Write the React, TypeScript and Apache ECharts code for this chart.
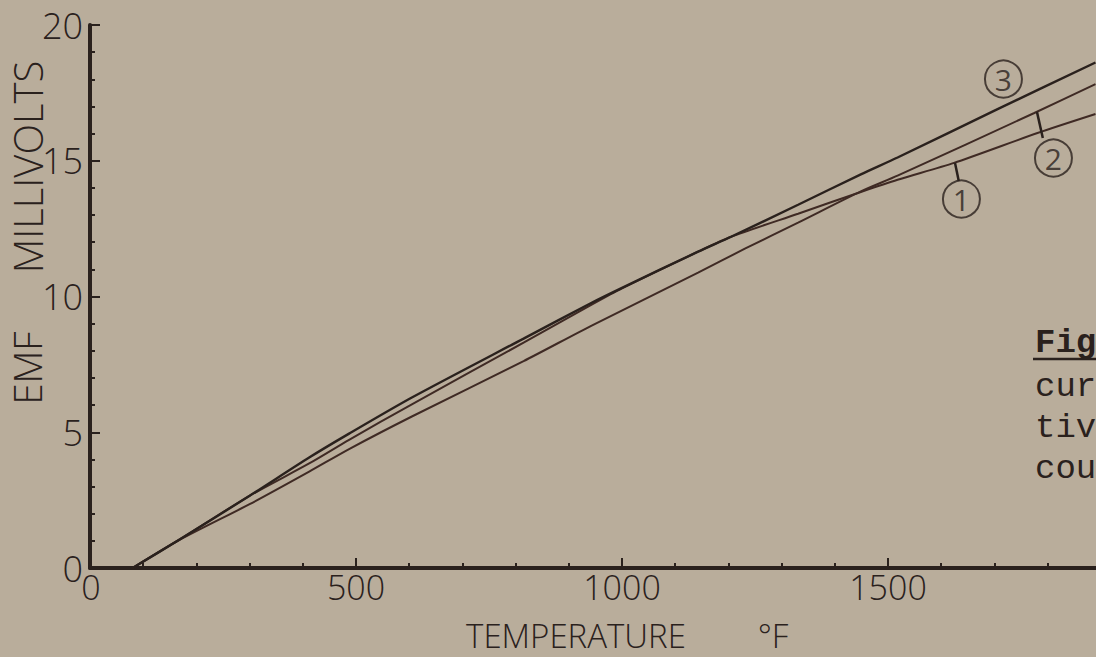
import React, { useEffect, useRef } from "react";
import * as echarts from "echarts";

// ---- data (°F, mV) ----
const temp3 = [80, 170, 300, 412, 487, 605, 815, 943, 1000, 1143, 1205, 1331, 1449, 1518, 1706, 1890];
const emf3 = [0, 1.07, 2.66, 4.07, 4.95, 6.28, 8.45, 9.77, 10.32, 11.65, 12.2, 13.38, 14.5, 15.12, 16.9, 18.62];

const temp1 = [80, 170, 300, 412, 487, 605, 815, 943, 1000, 1143, 1205, 1331, 1449, 1518, 1624, 1781, 1890];
const emf1 = [0, 1.07, 2.66, 3.85, 4.72, 6.03, 8.3, 9.7, 10.3, 11.65, 12.2, 13.05, 13.85, 14.3, 14.92, 16.02, 16.72];

const temp2 = [80, 170, 300, 412, 487, 605, 815, 943, 1143, 1231, 1331, 1449, 1518, 1774, 1890];
const emf2 = [0, 1.05, 2.35, 3.55, 4.38, 5.58, 7.62, 8.93, 10.88, 11.76, 12.72, 13.87, 14.45, 16.75, 17.82];

// curve number labels (circled) and their leader lines
const labelNames = ["1", "2", "3"];
const labelTemps = [1638, 1811, 1717];
const labelEmfs = [13.59, 15.1, 18.01];
const leader1 = [[1626, 14.92], [1633, 14.25]];
const leader2 = [[1780, 16.8], [1791, 15.84]];

const xTitle = "TEMPERATURE";
const xUnit = "°F";
const yTitleA = "MILLIVOLTS";
const yTitleB = "EMF";
const captionLines = ["cur", "tiv", "cou"];
const captionHead = "Fig";

const BG = "#b9ad9b";
const INK = "#2a211d";
const INK2 = "#3f2a24";
const SANS = "'Open Sans', 'DejaVu Sans', sans-serif";
const MONO = "'Liberation Mono', 'DejaVu Sans Mono', monospace";

const zip = (xs: number[], ys: number[]) => xs.map((x, i) => [x, ys[i]]);

export default function App() {
  const ref = useRef<HTMLDivElement>(null);
  useEffect(() => {
    document.body.style.margin = "0";
    document.body.style.background = BG;
    const chart = echarts.init(ref.current!, null, { renderer: "svg" });
    const lineSeries = (name: string, data: number[][], color: string, width: number) => ({
      type: "line",
      name,
      data,
      showSymbol: false,
      smooth: 0.25,
      lineStyle: { color, width },
      z: 3,
    });
    chart.setOption({
      animation: false,
      backgroundColor: BG,
      grid: { left: 90, top: 25, width: 1064, height: 543, containLabel: false, outerBoundsMode: "none" },
      xAxis: {
        type: "value",
        min: 0,
        max: 2000,
        interval: 500,
        axisLine: { show: true, onZero: false, lineStyle: { color: INK, width: 4 } },
        axisTick: { show: true, inside: true, length: 10, lineStyle: { color: INK, width: 2 } },
        minorTick: { show: true, splitNumber: 5, length: 5, lineStyle: { color: INK, width: 2 } },
        axisLabel: {
          color: INK,
          fontFamily: SANS,
          fontWeight: 300,
          fontSize: 34,
          margin: 2,
          showMaxLabel: false,
          formatter: (v: number) => (v === 0 ? "{z|0}" : String(v)),
          rich: { z: { fontFamily: SANS, fontWeight: 300, fontSize: 34, color: INK, padding: [0, 0, 0, 2] } },
        },
        splitLine: { show: false },
        minorSplitLine: { show: false },
      },
      yAxis: {
        type: "value",
        min: 0,
        max: 20,
        interval: 5,
        axisLine: { show: true, onZero: false, lineStyle: { color: INK, width: 4 } },
        axisTick: { show: true, inside: true, length: 10, lineStyle: { color: INK, width: 2 } },
        minorTick: { show: true, splitNumber: 5, length: 5, lineStyle: { color: INK, width: 2 } },
        axisLabel: {
          color: INK,
          fontFamily: SANS,
          fontWeight: 300,
          fontSize: 36,
          margin: 7,
          formatter: (v: number) => String(v),
        },
        splitLine: { show: false },
        minorSplitLine: { show: false },
      },
      series: [
        lineSeries("1", zip(temp1, emf1), INK2, 2),
        lineSeries("2", zip(temp2, emf2), INK2, 2),
        lineSeries("3", zip(temp3, emf3), INK, 2.4),
        { type: "line", data: leader1, showSymbol: false, lineStyle: { color: INK, width: 2.5 }, z: 4 },
        { type: "line", data: leader2, showSymbol: false, lineStyle: { color: INK, width: 2.5 }, z: 4 },
        {
          type: "scatter",
          data: labelNames.map((n, i) => ({ name: n, value: [labelTemps[i], labelEmfs[i]] })),
          symbol: "circle",
          symbolSize: 37,
          itemStyle: { color: "rgba(0,0,0,0)", borderColor: INK, borderWidth: 2 },
          label: {
            show: true,
            position: "inside",
            formatter: (p: any) => p.name,
            color: INK,
            fontFamily: SANS,
            fontSize: 30,
          },
          z: 5,
        },
      ],
      graphic: [
        {
          type: "text",
          x: 27,
          y: 167,
          rotation: Math.PI / 2,
          style: { text: yTitleA, x: 0, y: 0, fill: INK, font: `300 40px ${SANS}`, align: "center", verticalAlign: "middle" },
        },
        {
          type: "text",
          x: 27,
          y: 368,
          rotation: Math.PI / 2,
          style: { text: yTitleB, x: 0, y: 0, fill: INK, font: `300 38px ${SANS}`, align: "center", verticalAlign: "middle" },
        },
        {
          type: "text",
          x: 576,
          y: 635,
          style: { text: xTitle, fill: INK, font: `300 33px ${SANS}`, align: "center", verticalAlign: "middle" },
        },
        {
          type: "text",
          x: 773,
          y: 635,
          style: { text: xUnit, fill: INK, font: `300 33px ${SANS}`, align: "center", verticalAlign: "middle" },
        },
        {
          type: "text",
          x: 1035,
          y: 343,
          style: { text: captionHead, fill: INK, font: `bold 34px ${MONO}`, align: "left", verticalAlign: "middle" },
        },
        {
          type: "line",
          shape: { x1: 1033, y1: 359, x2: 1096, y2: 359 },
          style: { stroke: INK, lineWidth: 2.5 },
        },
        ...captionLines.map((t, i) => ({
          type: "text",
          x: 1035,
          y: 387 + i * 41,
          style: { text: t, fill: INK, font: `34px ${MONO}`, align: "left", verticalAlign: "middle" },
        })),
      ],
    });
    return () => chart.dispose();
  }, []);
  return <div ref={ref} style={{ position: "absolute", left: 0, top: 0, width: 1096, height: 657 }} />;
}
